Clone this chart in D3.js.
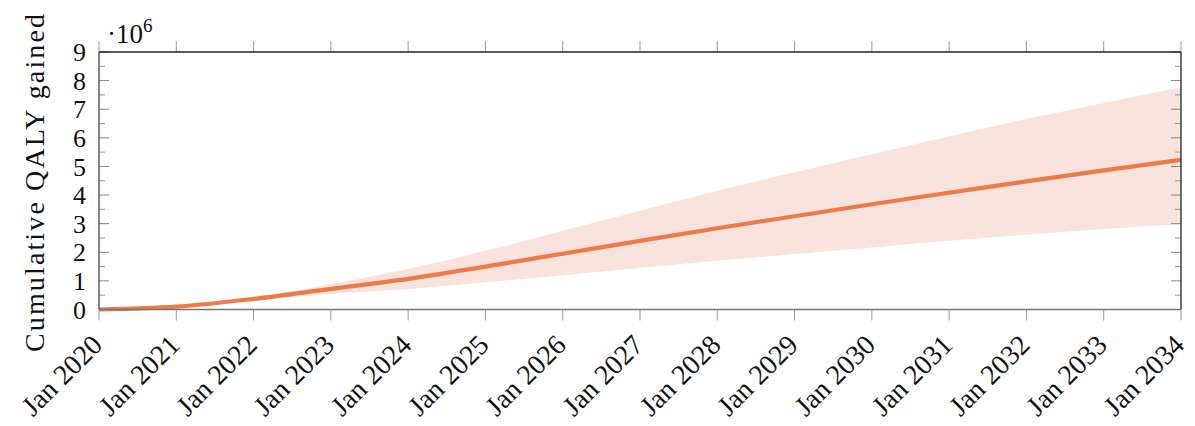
<!DOCTYPE html>
<html><head><meta charset="utf-8">
<script src="https://cdn.jsdelivr.net/npm/d3@7"></script>
<style>body{margin:0;background:#fff}svg text{font-family:"Liberation Serif","DejaVu Serif",serif;fill:#111}</style>
</head><body><svg id="c" width="1195" height="426"></svg>
<script>
const years = [2020,2021,2022,2023,2024,2025,2026,2027,2028,2029,2030,2031,2032,2033,2034];
const meanVals  = [0,0.10,0.37,0.72,1.07,1.50,1.95,2.40,2.84,3.26,3.68,4.08,4.48,4.86,5.23];
const lowerVals = [0,0.09,0.32,0.55,0.72,0.95,1.20,1.45,1.70,1.94,2.17,2.40,2.62,2.81,2.99];
const upperVals = [0,0.12,0.44,0.88,1.42,2.05,2.75,3.45,4.15,4.80,5.43,6.05,6.66,7.22,7.77];
const yTicks = [0,1,2,3,4,5,6,7,8,9];
const xTickLabels = years.map(y => "Jan " + y);

const svg = d3.select("#c");
const L=99, R=1181, T=52, B=309.5;
const x = d3.scaleLinear().domain([2020,2034]).range([L,R]);
const y = d3.scaleLinear().domain([0,9]).range([B,T]);
const data = years.map((yr,i)=>({yr, m:meanVals[i], lo:lowerVals[i], hi:upperVals[i]}));
const curve = d3.curveMonotoneX;

svg.append("path").datum(data)
  .attr("d", d3.area().x(d=>x(d.yr)).y0(d=>y(d.lo)).y1(d=>y(d.hi)).curve(curve))
  .attr("fill","#f9e3dc");
svg.append("path").datum(data)
  .attr("d", d3.line().x(d=>x(d.yr)).y(d=>y(d.m)).curve(curve))
  .attr("fill","none").attr("stroke","#ef7a49").attr("stroke-width",4.2);

// y ticks (inside), major + minor
const minor = d3.range(0.5,9,1);
const gy = svg.append("g");
[[L,1],[R,-1]].forEach(([ax,dir])=>{
  yTicks.forEach(t=>gy.append("line").attr("x1",ax).attr("x2",ax+dir*10).attr("y1",y(t)).attr("y2",y(t)).attr("stroke","#888").attr("stroke-width",1));
  minor.forEach(t=>gy.append("line").attr("x1",ax).attr("x2",ax+dir*6).attr("y1",y(t)).attr("y2",y(t)).attr("stroke","#999").attr("stroke-width",1));
});
// x ticks (outside, top and bottom)
years.forEach(t=>{
  svg.append("line").attr("x1",x(t)).attr("x2",x(t)).attr("y1",B).attr("y2",B+11).attr("stroke","#999");
  svg.append("line").attr("x1",x(t)).attr("x2",x(t)).attr("y1",T).attr("y2",T-11).attr("stroke","#999");
});
// frame
svg.append("line").attr("x1",L).attr("x2",R).attr("y1",T).attr("y2",T).attr("stroke","#222").attr("stroke-width",1.3);
svg.append("line").attr("x1",L).attr("x2",L).attr("y1",T).attr("y2",B).attr("stroke","#444").attr("stroke-width",1.3);
svg.append("line").attr("x1",R).attr("x2",R).attr("y1",T).attr("y2",B).attr("stroke","#222").attr("stroke-width",1.3);
svg.append("line").attr("x1",L).attr("x2",R).attr("y1",B).attr("y2",B).attr("stroke","#777").attr("stroke-width",1.6);

// y labels
yTicks.forEach(t=>svg.append("text").attr("x",L-13).attr("y",y(t)).attr("dy","0.35em").attr("text-anchor","end").attr("font-size",26).text(t));
// x labels
years.forEach((t,i)=>svg.append("text")
  .attr("transform",`translate(${x(t)+5},${B+37}) rotate(-45)`)
  .attr("text-anchor","end").attr("font-size",28).text(xTickLabels[i]));
// multiplier
const mt = svg.append("text").attr("x",107).attr("y",43).attr("font-size",27);
mt.append("tspan").text("·10");
mt.append("tspan").attr("dy",-11).attr("font-size",19).text("6");
// y title
svg.append("text").attr("transform",`translate(44,183) rotate(-90)`).attr("text-anchor","middle")
  .attr("font-size",28).attr("textLength",338).attr("lengthAdjust","spacing").text("Cumulative QALY gained");
</script></body></html>
